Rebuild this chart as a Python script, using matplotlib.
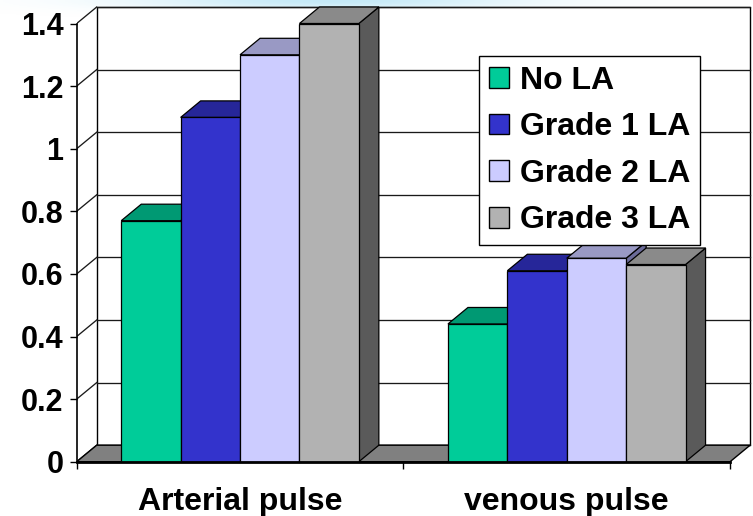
import numpy as np
import matplotlib.pyplot as plt
from matplotlib.patches import Patch, Polygon, Rectangle

plt.rcParams['font.family'] = ['Liberation Sans', 'DejaVu Sans']
plt.rcParams['font.weight'] = 'bold'

# data
categories = ['Arterial pulse', 'venous pulse']
series = ['No LA', 'Grade 1 LA', 'Grade 2 LA', 'Grade 3 LA']
no_la = [0.77, 0.44]
grade_1 = [1.10, 0.61]
grade_2 = [1.30, 0.65]
grade_3 = [1.40, 0.63]
values = [no_la, grade_1, grade_2, grade_3]
yticks = [0, 0.2, 0.4, 0.6, 0.8, 1.0, 1.2, 1.4]
ytick_labels = ['0', '0.2', '0.4', '0.6', '0.8', '1', '1.2', '1.4']

# face colours: front, top, side
front_cols = ['#00CC99', '#3333CC', '#CCCCFF', '#B2B2B2']
top_cols = ['#009973', '#262699', '#9999C4', '#8A8A8A']
side_cols = ['#007A5C', '#1F1F7A', '#6B6B99', '#5A5A5A']

# layout in pixels (front plane)
W, H = 753, 516
x0, y0 = 76.7, 461.7
cat_px, unit_px = 326.7, 313.0
DX = 20.0 / cat_px
DY = 16.5 / unit_px
ymax = 1.4
xlim = (-0.5, len(categories) - 0.5 + DX + 0.005)
ylim = (0, ymax + DY + 0.005)

fig = plt.figure(figsize=(W / 100, H / 100), dpi=100)

# soft blue glow along the top edge
bg = fig.add_axes([0, 0, 1, 1], zorder=-1)
bg.axis('off')
xx, yy = np.meshgrid(np.arange(W), np.arange(H))
glow = np.zeros((H, W, 4))
glow[..., 0], glow[..., 1], glow[..., 2] = 0.62, 0.86, 0.95
glow[..., 3] = 0.6 * np.exp(-0.5 * ((xx - 330) / 135.0) ** 2 - 0.5 * (yy / 6.5) ** 2)
bg.imshow(glow, extent=(0, W, H, 0), aspect='auto')
bg.set_xlim(0, W)
bg.set_ylim(H, 0)

ax = fig.add_axes([x0 / W, (H - y0) / H,
                   (xlim[1] - xlim[0]) * cat_px / W,
                   (ylim[1] - ylim[0]) * unit_px / H])
ax.set_xlim(*xlim)
ax.set_ylim(*ylim)
ax.patch.set_alpha(0)

left = -0.5
right = len(categories) - 0.5

# back wall
ax.add_patch(Rectangle((left + DX, DY), right - left, ymax, facecolor='white',
                       edgecolor='black', lw=1.0, zorder=1))
# left wall outline + gridlines
for v in yticks:
    ax.plot([left + DX, right + DX], [v + DY, v + DY], color='#1a1a1a', lw=0.95, zorder=1.2)
    ax.plot([left, left + DX], [v, v + DY], color='#1a1a1a', lw=0.95, zorder=1.2)
# floor
ax.add_patch(Polygon([(left, 0), (right, 0), (right + DX, DY), (left + DX, DY)],
                     closed=True, facecolor='#808080', edgecolor='black', lw=1.0, zorder=1.5))

# 3d columns
nser = len(series)
w = 1.0 / (nser + 1.5)
for i in range(len(categories)):
    for j in range(nser):
        x = i - nser * w / 2 + j * w
        h = values[j][i]
        ax.add_patch(Polygon([(x + w, 0), (x + w + DX, DY), (x + w + DX, h + DY), (x + w, h)],
                             closed=True, facecolor=side_cols[j], edgecolor='black', lw=0.9, zorder=3))
        ax.add_patch(Polygon([(x, h), (x + w, h), (x + w + DX, h + DY), (x + DX, h + DY)],
                             closed=True, facecolor=top_cols[j], edgecolor='black', lw=0.9, zorder=3))
        ax.bar(x, h, width=w, align='edge', color=front_cols[j], edgecolor='black',
               linewidth=0.9, zorder=3)

# axes
for s in ['top', 'right']:
    ax.spines[s].set_visible(False)
ax.spines['left'].set_bounds(0, ymax)
ax.spines['left'].set_linewidth(1.2)
ax.spines['bottom'].set_bounds(left, right)
ax.spines['bottom'].set_linewidth(2.0)
ax.spines['bottom'].set_zorder(4)

ax.set_yticks(yticks)
ax.set_yticklabels(ytick_labels)
ax.tick_params(axis='y', direction='out', length=5, width=1, pad=4.5, labelsize=22)

ax.set_xticks(range(len(categories)))
ax.set_xticklabels(categories)
ax.set_xticks(np.arange(left, right + 0.5, 1.0), minor=True)
ax.tick_params(axis='x', which='major', length=0, pad=18, labelsize=23)
ax.tick_params(axis='x', which='minor', direction='out', length=5, width=1)

handles = [Patch(facecolor=c, edgecolor='black', lw=1) for c in front_cols]
leg = ax.legend(handles, series, loc='upper left',
                bbox_to_anchor=(479.3 / W, 1 - 56.0 / H), bbox_transform=fig.transFigure,
                borderaxespad=0, fontsize=23, frameon=True, fancybox=False, framealpha=1,
                handlelength=0.62, handleheight=0.62, handletextpad=0.35,
                labelspacing=0.52, borderpad=0.3)
leg.get_frame().set_edgecolor('black')
leg.get_frame().set_linewidth(1.0)
leg.set_zorder(5)

fig.savefig('out.png', dpi=100)
